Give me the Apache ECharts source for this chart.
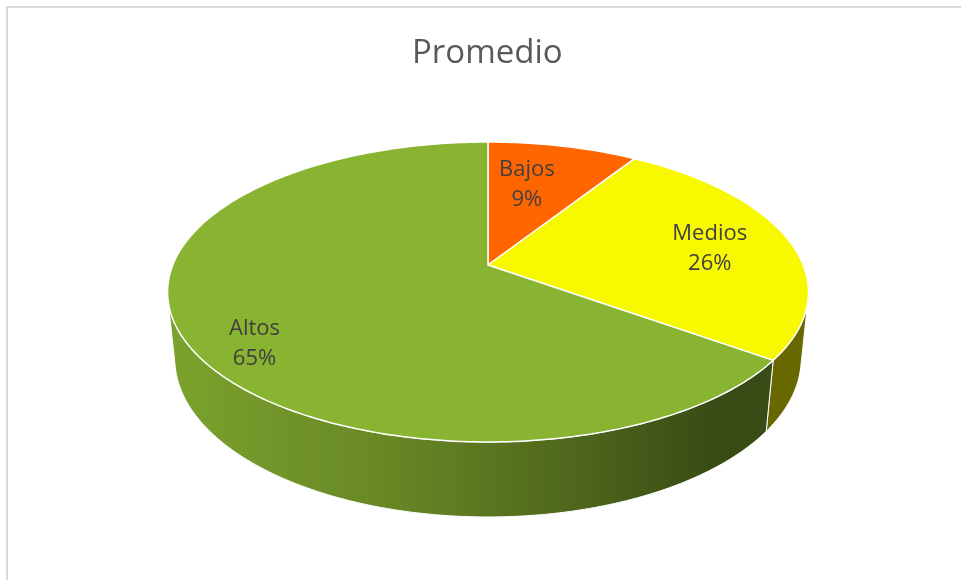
<!DOCTYPE html>
<html>
<head>
<meta charset="utf-8">
<script src="https://cdn.jsdelivr.net/npm/echarts@6/dist/echarts.min.js"></script>
<style>
  html, body { margin: 0; padding: 0; background: #ffffff; }
  #chart { width: 961px; height: 580px; }
</style>
</head>
<body>
<div id="chart"></div>
<script>
// Chart content
const chartTitle = 'Promedio';
const categories = ['Bajos', 'Medios', 'Altos'];
const values = [9, 26, 65];
const sliceColors = ['#FF6600', '#F8F800', '#89B431'];

// Camera / disc layout (pixels and ratios, not data)
const view = {
  cx: 488,             // apex of the disc on screen
  cy: 265,
  radius: 315.2,       // horizontal radius in px
  tilt: 27.41,         // elevation of the eye, degrees
  perspective: 0.2028, // disc radius / eye distance
  thickness: 0.240     // side height relative to radius
};
const labelRadius = 0.7;
const labelNudge = [[-16, 7], [10, 2], [-25, 30]];
// brightness of the rim from left to right
const sideShade = [[0, 0.9], [0.35, 0.75], [0.65, 0.56], [0.85, 0.42], [1, 0.42]];

const sinT = Math.sin(view.tilt * Math.PI / 180);
const cosT = Math.cos(view.tilt * Math.PI / 180);

// angle a measured clockwise from the far side, r in radii, h height (0 = top face)
function project(a, r, h) {
  const u = r * Math.sin(a);
  const v = r * Math.cos(a);
  const yv = v * sinT + h * cosT;
  const z = 1 + view.perspective * (v * cosT - h * sinT);
  return [view.cx + view.radius * u / z, view.cy - view.radius * yv / z];
}

function arc(a0, a1, h) {
  const n = Math.max(2, Math.ceil((a1 - a0) / (Math.PI / 180)));
  const pts = [];
  for (let k = 0; k <= n; k++) {
    pts.push(project(a0 + (a1 - a0) * k / n, 1, h));
  }
  return pts;
}

const total = values.reduce((s, v) => s + v, 0);
const starts = [];
let running = 0;
values.forEach(v => { starts.push(running / total * 2 * Math.PI); running += v; });

// the outer wall faces the eye only on the near side of the disc
const visEdge = Math.acos(-view.perspective / cosT);
const visFrom = visEdge;
const visTo = 2 * Math.PI - visEdge;
const shadeLeft = project(1.5 * Math.PI, 1, 0)[0];
const shadeRight = project(0.5 * Math.PI, 1, 0)[0];

function scaleColor(hex, f) {
  const n = parseInt(hex.slice(1), 16);
  const c = [(n >> 16) & 255, (n >> 8) & 255, n & 255].map(x => Math.round(Math.min(255, x * f)));
  return 'rgb(' + c.join(',') + ')';
}

function sideFill(hex) {
  return new echarts.graphic.LinearGradient(
    shadeLeft, 0, shadeRight, 0,
    sideShade.map(s => ({ offset: s[0], color: scaleColor(hex, s[1]) })),
    true
  );
}

function renderItem(params, api) {
  const i = params.dataIndex;
  const a0 = starts[i];
  const a1 = a0 + api.value(0) / total * 2 * Math.PI;
  const children = [];

  const s0 = Math.max(a0, visFrom);
  const s1 = Math.min(a1, visTo);
  if (s1 > s0) {
    const top = arc(s0, s1, 0);
    const bottom = arc(s0, s1, -view.thickness).reverse();
    children.push({
      type: 'polygon',
      z2: 1,
      shape: { points: top.concat(bottom) },
      style: { fill: sideFill(sliceColors[i]), stroke: '#ffffff', lineWidth: 1 }
    });
  }

  const face = [project(0, 0, 0)].concat(arc(a0, a1, 0));
  children.push({
    type: 'polygon',
    z2: 10,
    shape: { points: face },
    style: { fill: sliceColors[i], stroke: '#ffffff', lineWidth: 1.5, lineJoin: 'round' }
  });

  const mid = (a0 + a1) / 2;
  const p = project(mid, labelRadius, 0);
  const pct = Math.round(api.value(0) / total * 100) + '%';
  children.push({
    type: 'text',
    z2: 20,
    x: p[0] + labelNudge[i][0],
    y: p[1] + labelNudge[i][1],
    style: {
      text: categories[i] + '\n' + pct,
      fill: '#404040',
      fontFamily: 'Open Sans',
      fontSize: 22,
      lineHeight: 30,
      align: 'center',
      verticalAlign: 'middle'
    }
  });

  return { type: 'group', children: children };
}

const chart = echarts.init(document.getElementById('chart'), null, { renderer: 'canvas' });
chart.setOption({
  animation: false,
  backgroundColor: '#ffffff',
  title: {
    text: chartTitle,
    left: 412,
    top: 34,
    padding: 0,
    textStyle: {
      fontFamily: 'Open Sans',
      fontSize: 33,
      fontWeight: 'normal',
      color: '#595959',
      lineHeight: 40
    }
  },
  graphic: [{
    type: 'rect',
    shape: { x: 7, y: 7, width: 1200, height: 1200 },
    style: { fill: 'none', stroke: '#d9d9d9', lineWidth: 2 },
    silent: true
  }],
  series: [{
    type: 'custom',
    coordinateSystem: 'none',
    renderItem: renderItem,
    data: values.map((v, i) => ({ name: categories[i], value: v }))
  }]
});
</script>
</body>
</html>
